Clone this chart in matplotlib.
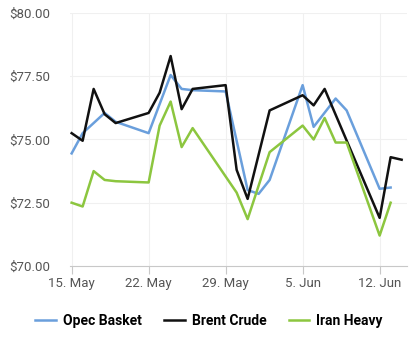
import matplotlib
matplotlib.use("Agg")
import matplotlib.pyplot as plt
import pandas as pd

plt.rcParams['font.family'] = ['Roboto', 'DejaVu Sans']

# == Prices == #
opec_dates = ["2018-05-15", "2018-05-16", "2018-05-18", "2018-05-19", "2018-05-22",
              "2018-05-24", "2018-05-25", "2018-05-26", "2018-05-29", "2018-05-31",
              "2018-06-01", "2018-06-02", "2018-06-05", "2018-06-06", "2018-06-08",
              "2018-06-09", "2018-06-12", "2018-06-13"]
opec_vals = [74.45, 75.25, 76.05, 75.7, 75.25, 77.55, 77.0, 76.95, 76.9, 73.0,
             72.85, 73.4, 77.15, 75.5, 76.62, 76.15, 73.05, 73.1]

brent_dates = ["2018-05-15", "2018-05-16", "2018-05-17", "2018-05-18", "2018-05-19",
               "2018-05-22", "2018-05-23", "2018-05-24", "2018-05-25", "2018-05-26",
               "2018-05-29", "2018-05-30", "2018-05-31", "2018-06-02", "2018-06-05",
               "2018-06-06", "2018-06-07", "2018-06-12", "2018-06-13", "2018-06-14"]
brent_vals = [75.25, 74.95, 77.0, 76.0, 75.65, 76.05, 76.85, 78.3, 76.2, 77.0,
              77.15, 73.8, 72.65, 76.15, 76.75, 76.35, 77.0, 71.9, 74.3, 74.2]

iran_dates = ["2018-05-15", "2018-05-16", "2018-05-17", "2018-05-18", "2018-05-19",
              "2018-05-22", "2018-05-23", "2018-05-24", "2018-05-25", "2018-05-26",
              "2018-05-30", "2018-05-31", "2018-06-02", "2018-06-05", "2018-06-06",
              "2018-06-07", "2018-06-08", "2018-06-09", "2018-06-12", "2018-06-13"]
iran_vals = [72.5, 72.35, 73.75, 73.4, 73.35, 73.3, 75.55, 76.5, 74.7, 75.45,
             72.9, 71.85, 74.5, 75.55, 75.0, 75.85, 74.88, 74.88, 71.2, 72.5]

tick_dates = ["2018-05-15", "2018-05-22", "2018-05-29", "2018-06-05", "2018-06-12"]
tick_labels = ["15. May", "22. May", "29. May", "5. Jun", "12. Jun"]
y_ticks = [70, 72.5, 75, 77.5, 80]

fig = plt.figure(figsize=(4.18, 3.44), dpi=100)
ax = fig.add_axes([0.167, 0.227, 0.807, 0.735])

ax.plot(pd.to_datetime(opec_dates), opec_vals, color='#6a9fdc', lw=1.8, label='Opec Basket')
ax.plot(pd.to_datetime(brent_dates), brent_vals, color='#111111', lw=1.8, label='Brent Crude')
ax.plot(pd.to_datetime(iran_dates), iran_vals, color='#8cc63f', lw=1.8, label='Iran Heavy')

ax.set_ylim(70, 80)
ax.set_xlim(pd.Timestamp("2018-05-14 20:00"), pd.Timestamp("2018-06-14 12:00"))
ax.set_yticks(y_ticks)
ax.set_yticklabels([f"${v:.2f}" for v in y_ticks])
ax.set_xticks(pd.to_datetime(tick_dates))
ax.set_xticklabels(tick_labels)

ax.grid(True, color='#f0f0f0', lw=0.8)
ax.set_axisbelow(True)
for s in ['top', 'right', 'left']:
    ax.spines[s].set_visible(False)
ax.spines['bottom'].set_color('#c8c8c8')
ax.tick_params(axis='x', length=6, color='#c8c8c8', labelsize=9.5, labelcolor='#555555', pad=2)
ax.tick_params(axis='y', length=0, labelsize=9.5, labelcolor='#555555', pad=14)

fig.legend(loc='center', bbox_to_anchor=(0.5, 0.068), ncol=3, frameon=False,
           prop={'weight': 'bold', 'size': 10}, handlelength=1.5, columnspacing=1.6,
           handletextpad=0.5)

fig.savefig("out.png", dpi=100)
